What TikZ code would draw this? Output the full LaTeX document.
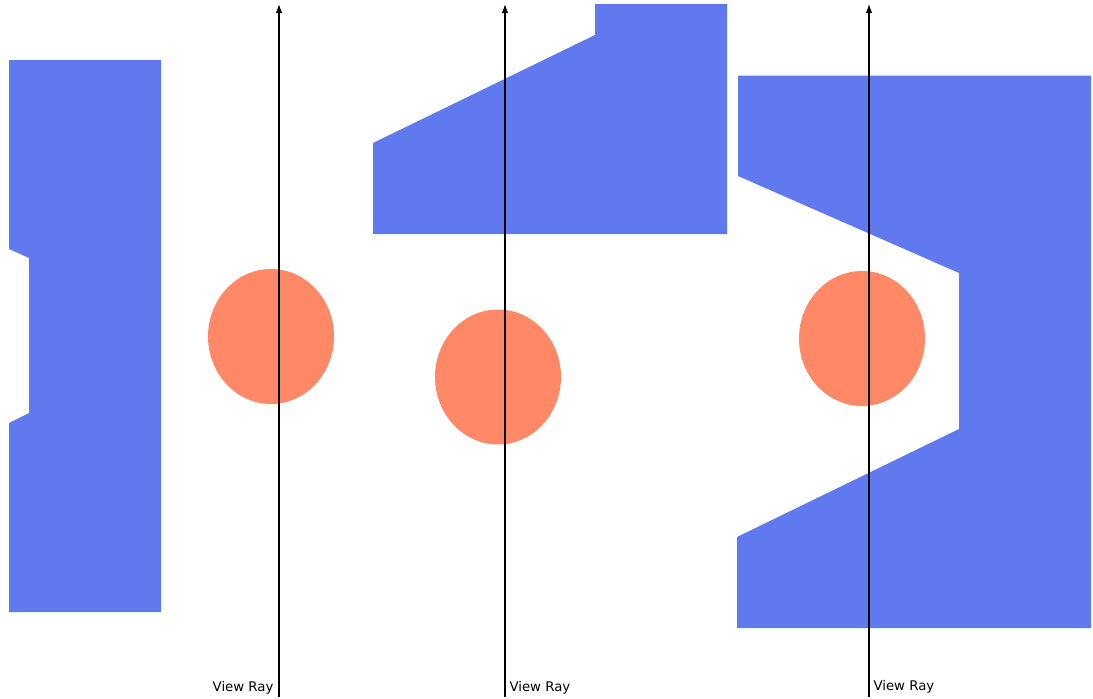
\documentclass[tikz,border=0pt]{standalone}
\usepackage{fontspec}
\setsansfont{DejaVu Sans}
\usetikzlibrary{arrows.meta,positioning,shapes.geometric}
\definecolor{wallblue}{RGB}{97,121,239}
\definecolor{targetorange}{RGB}{255,136,102}

\begin{document}
\begin{tikzpicture}[
    x=1pt, y=-1pt,
    font=\sffamily\fontsize{13.3}{15}\selectfont,
    wall/.style={fill=wallblue, draw=none},
    target/.style={ellipse, fill=targetorange, inner sep=0pt, minimum width=126pt, minimum height=135pt},
    ray/.style={-{Latex[length=9pt,width=6.5pt]}, line width=1.1pt, black}
]
\useasboundingbox (0,0) rectangle (1093,699);
% occluders
\fill[wall] (9,60) -- (161,60) -- (161,612) -- (9,612) -- (9,423) -- (29,413)
    -- (29,258) -- (9,249) -- cycle;
\fill[wall] (373,143) -- (595,35) -- (595,4) -- (727,4) -- (727,234) -- (373,234) -- cycle;
\fill[wall] (738,75.5) -- (1091,75.5) -- (1091,628) -- (737,628) -- (737,537) -- (959,429)
    -- (959,273) -- (738,176) -- cycle;
% objects
\node[target] (objA) at (271,336.5) {};
\node[target] (objB) at (498,377) {};
\node[target] (objC) at (862,338.5) {};
% view rays
\coordinate (eyeA) at (279,697);
\coordinate (farA) at (279,4);
\coordinate (eyeB) at (505,697);
\coordinate (farB) at (505,4);
\coordinate (eyeC) at (869,697);
\coordinate (farC) at (869,4);
\draw[ray] (eyeA) -- (farA);
\draw[ray] (eyeB) -- (farB);
\draw[ray] (eyeC) -- (farC);
\node[left=2pt of eyeA, yshift=9pt] (labA) {View Ray};
\node[right=1pt of eyeB, yshift=9pt] (labB) {View Ray};
\node[right=1pt of eyeC, yshift=10pt] (labC) {View Ray};
\end{tikzpicture}
\end{document}
